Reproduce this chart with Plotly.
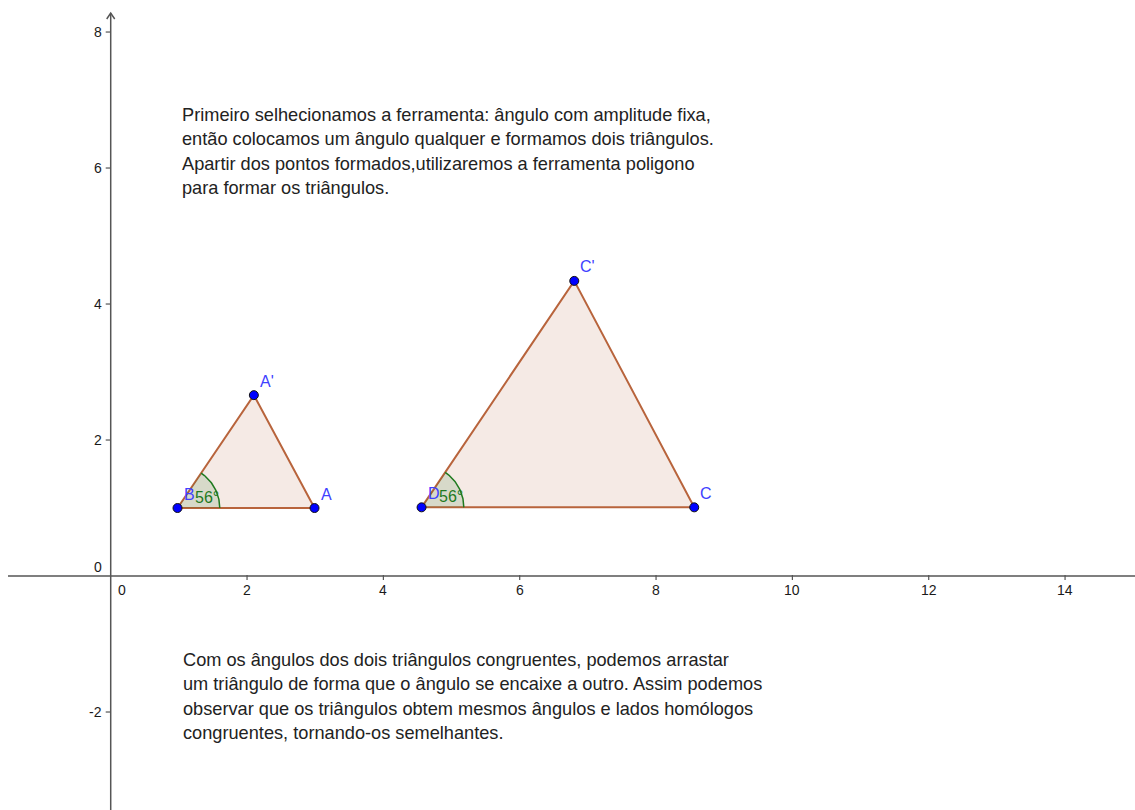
import math
import plotly.graph_objects as go

# ---------------- data ----------------
point_names = ["B", "A", "A'", "D", "C", "C'"]
point_x = [0.98, 2.99, 2.10, 4.56, 8.56, 6.80]
point_y = [1.00, 1.00, 2.66, 1.01, 1.01, 4.34]

small_triangle = ["B", "A", "A'"]
big_triangle = ["D", "C", "C'"]

angle_deg = 56
angle_vertices = ["B", "D"]

x_ticks = [0, 2, 4, 6, 8, 10, 12, 14]
y_ticks = [-2, 0, 2, 4, 6, 8]

x_range = [-1.624, 15.026]
y_range = [-3.441, 8.471]

top_text = [
    "Primeiro selhecionamos a ferramenta: ângulo com amplitude fixa,",
    "então colocamos um ângulo qualquer e formamos dois triângulos.",
    "Apartir dos pontos formados,utilizaremos a ferramenta poligono",
    "para formar os triângulos.",
]
bottom_text = [
    "Com os ângulos dos dois triângulos congruentes, podemos arrastar",
    "um triângulo de forma que o ângulo se encaixe a outro. Assim podemos",
    "observar que os triângulos obtem mesmos ângulos e lados homólogos",
    "congruentes, tornando-os semelhantes.",
]

# ---------------- styles ----------------
W, H = 1135, 810
FONT = "Liberation Sans, Arial, sans-serif"
AXIS_COL = "#555555"
POLY_FILL = "rgba(153,51,0,0.10)"
POLY_LINE = "#b8643c"
PT_COL = "#0000ff"
LBL_COL = "#4040ff"
ANG_COL = "#1f7a1f"
ANG_FILL = "rgba(0,100,0,0.12)"
TXT_COL = "#222222"

pts = {n: (x, y) for n, x, y in zip(point_names, point_x, point_y)}

fig = go.Figure()

# triangles
for tri in (small_triangle, big_triangle):
    xs = [pts[n][0] for n in tri] + [pts[tri[0]][0]]
    ys = [pts[n][1] for n in tri] + [pts[tri[0]][1]]
    fig.add_trace(go.Scatter(x=xs, y=ys, mode="lines", fill="toself",
                             fillcolor=POLY_FILL,
                             line=dict(color=POLY_LINE, width=2),
                             hoverinfo="skip", showlegend=False))

# angle sectors
r = 0.62
for v in angle_vertices:
    cx, cy = pts[v]
    n = 40
    ax = [cx] + [cx + r * math.cos(math.radians(angle_deg * i / n)) for i in range(n + 1)] + [cx]
    ay = [cy] + [cy + r * math.sin(math.radians(angle_deg * i / n)) for i in range(n + 1)] + [cy]
    fig.add_trace(go.Scatter(x=ax, y=ay, mode="lines", fill="toself",
                             fillcolor=ANG_FILL, line=dict(width=0, color=ANG_COL),
                             hoverinfo="skip", showlegend=False))
    fig.add_trace(go.Scatter(x=ax[1:-1], y=ay[1:-1], mode="lines",
                             line=dict(color=ANG_COL, width=1.5),
                             hoverinfo="skip", showlegend=False))
    fig.add_annotation(x=cx, y=cy, text=f"{angle_deg}°", showarrow=False,
                       xanchor="left", yanchor="middle", xshift=15, yshift=11,
                       font=dict(family=FONT, size=16, color=ANG_COL))

# points
fig.add_trace(go.Scatter(x=point_x, y=point_y, mode="markers",
                         marker=dict(size=9, color=PT_COL, line=dict(color="#111111", width=1)),
                         hoverinfo="skip", showlegend=False))
for n, x, y in zip(point_names, point_x, point_y):
    fig.add_annotation(x=x, y=y, text=n, showarrow=False, xanchor="left",
                       yanchor="middle", xshift=4, yshift=14,
                       font=dict(family=FONT, size=16, color=LBL_COL))

# axes
fig.add_shape(type="line", x0=-1.507, x1=x_range[1], y0=0, y1=0,
              line=dict(color=AXIS_COL, width=1.5), layer="below")
fig.add_shape(type="line", x0=0, x1=0, y0=y_range[0], y1=8.28,
              line=dict(color=AXIS_COL, width=1.5), layer="below")
fig.add_shape(type="path", xref="x", yref="y", xsizemode="pixel", ysizemode="pixel",
              xanchor=0, yanchor=8.28, path="M-4,-6 L0,0 L4,-6",
              line=dict(color=AXIS_COL, width=1.5))

for t in x_ticks:
    if t != 0:
        fig.add_shape(type="line", xref="x", yref="y", ysizemode="pixel", yanchor=0,
                      x0=t, x1=t, y0=-4, y1=1, line=dict(color=AXIS_COL, width=1.2))
    fig.add_annotation(x=t, y=0, text=str(t), showarrow=False, xanchor="center",
                       yanchor="middle", yshift=-14, xshift=(11 if t == 0 else 0),
                       font=dict(family=FONT, size=14, color="#1a1a1a"))
for t in y_ticks:
    if t != 0:
        fig.add_shape(type="line", xref="x", yref="y", xsizemode="pixel", xanchor=0,
                      x0=-5, x1=0, y0=t, y1=t, line=dict(color=AXIS_COL, width=1.2))
    fig.add_annotation(x=0, y=t, text=str(t), showarrow=False, xanchor="right",
                       yanchor="middle", xshift=-7, yshift=(9 if t == 0 else 0),
                       font=dict(family=FONT, size=14, color="#1a1a1a"))

# text blocks
for i, line in enumerate(top_text):
    fig.add_annotation(xref="paper", yref="paper", x=180 / W, y=1 - (115 + 24.3 * i) / H,
                       text=line, showarrow=False, xanchor="left", yanchor="middle",
                       font=dict(family=FONT, size=18.2, color=TXT_COL))
for i, line in enumerate(bottom_text):
    fig.add_annotation(xref="paper", yref="paper", x=181 / W, y=1 - (660 + 24.3 * i) / H,
                       text=line, showarrow=False, xanchor="left", yanchor="middle",
                       font=dict(family=FONT, size=18.2, color=TXT_COL))

fig.update_layout(
    width=W, height=H, margin=dict(l=0, r=0, t=0, b=0),
    paper_bgcolor="white", plot_bgcolor="white",
    xaxis=dict(range=x_range, visible=False, fixedrange=True),
    yaxis=dict(range=y_range, visible=False, fixedrange=True),
    showlegend=False,
)

fig.write_html("out.html", config={"displayModeBar": False},
               post_script="document.body.style.margin='0';document.body.style.overflow='hidden';")
